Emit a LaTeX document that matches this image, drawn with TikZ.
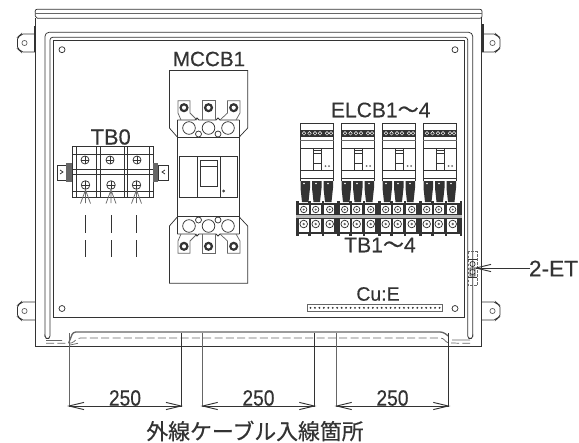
\documentclass[tikz,border=0pt]{standalone}
\usepackage{fontspec}
\setmainfont{Liberation Sans}[FakeBold=0.35]
\newfontfamily\cjk{Noto Sans CJK JP}[FakeBold=0.5]
\definecolor{ink}{HTML}{333333}
\definecolor{mid}{HTML}{666666}
\tikzset{
 ln/.style={draw=ink,line width=0.55pt},
 lg/.style={draw=mid,line width=0.55pt},
 lbl/.style={text=ink,inner sep=0pt},
 lblA/.style={lbl,font=\fontsize{15.8pt}{16pt}\selectfont},
 lblB/.style={lbl,font=\fontsize{14.6pt}{15pt}\selectfont},
 lblC/.style={lbl,font=\fontsize{14.4pt}{15pt}\selectfont,yscale=1.15,transform shape},
}
\newcommand{\hole}[2]{\draw[ln] (#1,#2) circle[radius=3];}
\newcommand{\screw}[3]{\fill[ink] (#1,#2) circle[radius=#3]; \fill[white] (#1,#2) circle[radius=#3*0.45];}
\newcommand{\barbs}[2]{\draw[ink,line width=0.7pt] ($(#1)+(#2*15,-3.6)$) -- (#1) -- ($(#1)+(#2*15,3.6)$);}
\usetikzlibrary{calc}
\begin{document}
\begin{tikzpicture}[x=0.75pt,y=-0.75pt]
\useasboundingbox (0,0) rectangle (579,443);
% case
\draw[ln,rounded corners=1.5] (35.5,18.3) -- (35,9.3) -- (482,9.3) -- (482,18.3) -- cycle;
\draw[lg] (35,13.6) -- (482,13.6);
\draw[ln] (35.7,18.3) -- (35.7,346.3) -- (481.7,346.3) -- (481.7,18.3);
% door
\draw[ln,rounded corners=3] (45,336.7) -- (45,32.3) -- (472.7,32.3) -- (472.7,336.7);
\draw[ln,rounded corners=2] (45,336.7) -- (45,338.5) -- (50,338.5) -- (50,37.3) -- (467.7,37.3) -- (467.7,338.5) -- (472.7,338.5) -- (472.7,336.7);
\draw[ln] (53.3,40.7) rectangle (464.3,317.3);
% bottom flange
\draw[draw=mid,line width=1pt,rounded corners=2] (68.7,343) -- (73,332) -- (443,332) -- (448.3,336);
\draw[lg,dash pattern=on 6pt off 2.5pt,rounded corners=2] (46,343.3) -- (72,343.3) -- (78,338) -- (443,338) -- (447,343) -- (470,343.3);
\draw[lg] (46,340.5) -- (62,340.5) (78,343.3) -- (70,345) (452,340) -- (470,340);
% hinges
\foreach \hy in {34,302}{
 \draw[ln,rounded corners=1.5] (35,\hy) -- (21,\hy) -- (20,\hy+2) -- (17.5,\hy+3) -- (17.5,\hy+15) -- (20,\hy+16) -- (21,\hy+18) -- (35,\hy+18);
 \draw[lg] (24.5,\hy+9) circle[radius=2.6];
 \draw[ln,rounded corners=1.5] (482,\hy) -- (496,\hy) -- (497,\hy+2) -- (500,\hy+3) -- (500,\hy+15) -- (497,\hy+16) -- (496,\hy+18) -- (482,\hy+18);
 \draw[lg] (492.5,\hy+9) circle[radius=2.6];
}
\fill[ink] (33.8,26) rectangle (35.7,52);
\fill[ink] (481.7,24) rectangle (483.6,52);
% holes
\hole{62}{49.7}\hole{455}{49.7}\hole{62}{308.5}\hole{455}{308.5}
% MCCB plate
\draw[ln] (177.3,137) -- (169.4,128) -- (169.4,70.5) -- (247.7,70.5) -- (247.7,128) -- (239.3,137);
\draw[ln] (177.3,217) -- (169.4,226) -- (169.4,283.3) -- (247.7,283.3) -- (247.7,226) -- (239.3,217);
% MCCB body
\draw[ln] (177.3,137.7) rectangle (239.3,216.3);
\draw[ln] (179.3,156.7) rectangle (237.7,197.3);
\draw[ln] (197,156.7) -- (197,197.3) (220,156.7) -- (220,197.3);
\draw[ln] (200,160.5) rectangle (217,186);
\draw[ln] (200,166.5) -- (217,166.5);
\draw[ln] (223.7,191) circle[radius=1];
% terminals, mirrored about y=177
\foreach \sg/\off in {1/0,-1/354}{
 \begin{scope}[shift={(0,\off)},yscale=\sg]
 \draw[ln] (177.3,120) -- (195,120) -- (197,118) -- (199,120) -- (216,120) -- (218,118) -- (220,120) -- (239.3,120);
 \draw[ln] (177.3,120) -- (177.3,137.5) (239.3,120) -- (239.3,137.5);
 \draw[ln] (189,128) circle[radius=6.3] (208.5,128) circle[radius=6.3] (228,128) circle[radius=6.3];
 \draw[ln,fill=white] (198.5,134) circle[radius=3] (218,134) circle[radius=3];
 \draw[lg] (181,120) -- (178,113) -- (178,100.7) -- (190,100.7) -- (190,113) -- (197,120);
 \draw[lg] (202.5,120) -- (202.5,100.7) -- (215,100.7) -- (215,120);
 \draw[lg] (220,120) -- (227.5,113) -- (227.5,100.7) -- (240,100.7) -- (240,113) -- (236,120);
 \foreach \sx in {184,208.5,233.7}{\screw{\sx}{107.7}{4.6}}
 \end{scope}
}
% TB0
\draw[ln] (72.3,146.7) rectangle (153.3,197);
\draw[ln] (76,146.7) -- (76,197) (149.3,146.7) -- (149.3,197);
\foreach \vx in {96,100,124,127}{\draw[ln] (\vx,146.7) -- (\vx,197);}
\draw[ln] (72.3,154) -- (153.3,154) (72.3,169.3) -- (153.3,169.3) (72.3,174) -- (153.3,174) (72.3,191) -- (153.3,191);
\foreach \sx in {85,110,137}{
 \draw[ln,fill=white] (\sx,160) circle[radius=4];
 \draw[ln] (\sx-4,160) -- (\sx+4,160) (\sx,156) -- (\sx,164);
}
\foreach \sx in {85.5,111,136.5}{
 \draw[ln,fill=white] (\sx,185) circle[radius=4.3];
 \draw[ln] (\sx-4,185) -- (\sx+4,185) (\sx,181) -- (\sx,189);
 \draw[lg] (\sx,189) -- (\sx,203) (\sx,190) -- (\sx-5,203.5) (\sx,190) -- (\sx+5,203.5);
 \draw[ln] (\sx,215) -- (\sx,232.5) (\sx,240) -- (\sx,257);
}
\draw[ln] (57.7,165) rectangle (66,180);
\draw[ln] (60,170) -- (63,172) -- (60,174);
\fill[mid] (66,163) rectangle (72,182);
\draw[ln] (158,165) rectangle (168,180);
\draw[ln] (165,170) -- (162,172) -- (165,174);
\fill[mid] (153.3,163) rectangle (158,182);
% ELCBs
\foreach \ex in {300,341,382,423}{
 \begin{scope}[shift={(\ex,0)}]
 \draw[ln] (0,181) -- (0,123.3) -- (33.5,123.3) -- (33.5,181);
 \fill[ink] (0,130) rectangle (33.5,136.7);
 \foreach \cx in {4,9.5,15,20,27,31}{\draw[white,line width=0.3pt] (\cx,133.3) circle[radius=1.8];}
 \draw[lg] (0,140) -- (33.5,140);
 \draw[ln] (0,148.3) -- (33.5,148.3) (0,170.7) -- (33.5,170.7) (0,178.3) -- (33.5,178.3);
 \draw[ln] (13,148.3) -- (13,170.7) (21.7,148.3) -- (21.7,170.7);
 \draw[ln] (13.5,150) rectangle (21,163);
 \draw[ln] (13.5,153.5) -- (21,153.5);
 \fill[mid] (25.5,166) circle[radius=1] (29,166) circle[radius=1];
 \foreach \lx in {0.5,12,23.5}{
  \fill[ink] (\lx,181) -- (\lx+9.5,181) -- (\lx+9.5,188) -- (\lx+8,202) -- (\lx+1.5,202) -- (\lx,188) -- cycle;
 }
 \fill[white] (4,183.5) circle[radius=.8] (16,183.5) circle[radius=.8] (28,183.5) circle[radius=.8];
 \end{scope}
}
% TB1-4
\foreach \ex in {296,337,378,419}{
 \begin{scope}[shift={(\ex,0)}]
 \fill[ink] (0,203) rectangle (42,233.5);
 \fill[ink] (0,201) rectangle (2.5,236);
 \foreach \tx/\cx in {2.5/8,14/20,27.5/34}{
  \fill[white] (\tx+.5,205) rectangle (\tx+10.5,213.5);
  \fill[white] (\tx+.5,219) rectangle (\tx+10.5,232);
  \draw[ln] (\cx-.3,209.5) circle[radius=3.2];
  \fill[mid] (\cx-.3,209.5) circle[radius=1.2];
  \draw[ln] (\cx-.3,224) circle[radius=3.8];
  \fill[mid] (\cx-.3,224) circle[radius=1.3];
 }
 \foreach \tx in {13.5,27}{
  \fill[ink] (\tx-1.4,201) rectangle (\tx+1.4,205);
  \fill[ink] (\tx-1.2,232) rectangle (\tx+1.2,236);
 }
 \end{scope}
}
\fill[ink] (460,201) rectangle (462,236);
\fill[mid!45] (296,214.5) rectangle (462,218);
% Cu:E bar
\draw[lg,fill=white] (307.7,304.3) rectangle (442,311.3);
\foreach \dn in {0,...,29}{\fill[ink] ({310.5+\dn*4.45},307.8) circle[radius=1.05];}
% 2-ET
\draw[lg,dash pattern=on 2pt off 1pt] (468,251.5) rectangle (477,285.5);
\draw[ln] (468,259) -- (477,259) (468,277) -- (477,277);
\draw[ln] (472.5,264) circle[radius=2.6] (472.5,272) circle[radius=2.6] (470,268) rectangle (475,276);
\coordinate (etend) at (530,268);
\coordinate (ettip) at (476,268);
\draw[ln] (etend) -- (ettip);
\barbs{ettip}{1}
% dimensions
\foreach \na/\xa/\nb/\xb in {a/69/b/181,c/202.7/d/314.3,e/336.7/f/448.3}{
 \coordinate (\na top) at (\xa,333);
 \coordinate (\nb top) at (\xb,333);
 \coordinate (\na low) at (\xa,406);
 \coordinate (\nb low) at (\xb,406);
 \draw[lg] (\na top) -- ([yshift=-0.5pt]\na low);
 \draw[ln] (\nb top) -- ([yshift=-0.5pt]\nb low);
 \draw[ln] (\na low) -- (\nb low);
 \barbs{\na low}{1}
 \barbs{\nb low}{-1}
}
% labels
\node[lblA,font=\fontsize{16.4pt}{17pt}\selectfont] (nTBz) at (110.7,137) {TB0};
\node[lblB,font=\fontsize{15.5pt}{16pt}\selectfont] (nMCCB) at (209,59) {MCCB1};
\node[lblA] (nELCB) at (380.7,110) {ELCB1{\cjk ～}4};
\node[lblA] (nTBs) at (380,245) {TB1{\cjk ～}4};
\node[lblB] (nCu) at (378,294) {Cu:E};
\node[lblA,font=\fontsize{17pt}{18pt}\selectfont] (nET) at (553.5,268.5) {2-ET};
\node[lblC] (nDa) at (125,398) {250};
\node[lblC] (nDb) at (258.5,398) {250};
\node[lblC] (nDc) at (392.5,398) {250};
\node[text=ink,inner sep=0pt,font=\cjk\fontsize{16.4pt}{17pt}\selectfont] (nJp) at (255,431) {外線ケーブル入線箇所};
\end{tikzpicture}
\end{document}
